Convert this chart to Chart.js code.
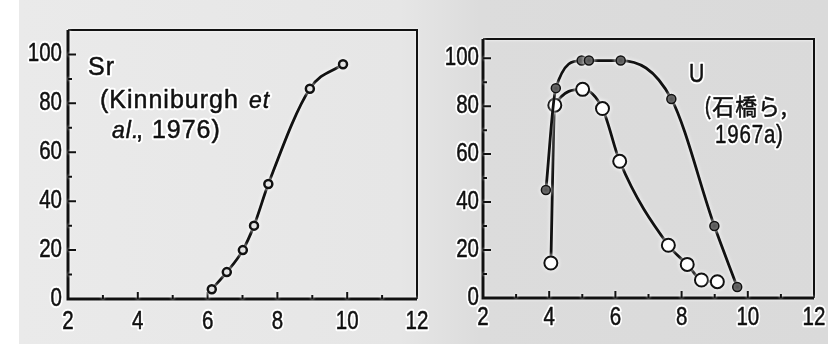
<!DOCTYPE html>
<html>
<head>
<meta charset="utf-8">
<script src="https://cdn.jsdelivr.net/npm/chart.js@4"></script>
<style>
  html, body { margin: 0; padding: 0; }
  body {
    width: 828px; height: 344px; position: relative; overflow: hidden;
    background: linear-gradient(to right, #fff 0, #fff 19px, #eaeaea 19px, #e6e6e6 400px, #dcdcdc 480px, #dadada 828px);
  }
  canvas { position: absolute; left: 0; top: 0; }
</style>
</head>
<body>
<canvas id="srChart" width="828" height="344"></canvas>
<canvas id="uChart" width="828" height="344"></canvas>
<script>
// Sr adsorption vs pH
const srX = [6.12, 6.55, 7.01, 7.33, 7.74, 8.93, 9.88];
const srY = [4, 11, 20, 30, 47, 86, 96];

// U adsorption vs pH, two series (filled / open circles)
const uFilledX = [3.90, 4.20, 4.98, 5.20, 6.16, 7.69, 8.99, 9.68];
const uFilledY = [45, 87.5, 99, 99, 99, 83, 30, 4.6];
const uOpenX = [4.05, 4.17, 5.01, 5.61, 6.13, 7.60, 8.17, 8.60, 9.08];
const uOpenY = [14.6, 80.4, 87, 79, 57, 22, 14, 7.5, 6.8];

const xTicks = [2, 4, 6, 8, 10, 12];
const yTicks = [0, 20, 40, 60, 80, 100];

const sans = '"Liberation Sans", Arial, sans-serif';
const ink = '#111';

function toPoints(xs, ys) {
  return xs.map((x, i) => ({x: x, y: ys[i]}));
}

// text with a white halo, squeezed horizontally by sx and thickened a little
function haloText(ctx, text, x, y, font, sx, align) {
  ctx.save();
  ctx.font = font;
  ctx.textAlign = align || 'left';
  ctx.translate(x, y);
  ctx.scale(sx, 1);
  ctx.lineJoin = 'round';
  ctx.strokeStyle = '#fff';
  ctx.lineWidth = 4.5;
  ctx.strokeText(text, 0, 0);
  ctx.fillStyle = ink;
  ctx.fillText(text, 0, 0);
  ctx.strokeStyle = ink;
  ctx.lineWidth = 0.5;
  ctx.strokeText(text, 0, 0);
  ctx.restore();
}

// tick numbers, box around the plot and short inward tick marks
const framePlugin = {
  id: 'frame',
  beforeDatasetsDraw(chart, args, opts) {
    const {ctx, chartArea: a, scales: {x, y}} = chart;

    ctx.save();
    ctx.textBaseline = 'middle';
    const font = '25px ' + sans;
    for (const v of xTicks) {
      haloText(ctx, String(v), x.getPixelForValue(v), a.bottom + opts.xGap, font, 0.82, 'center');
    }
    for (const v of yTicks) {
      haloText(ctx, String(v), a.left - opts.yGap, y.getPixelForValue(v), font, 0.82, 'right');
    }
    ctx.restore();

    ctx.save();
    ctx.strokeStyle = ink;
    ctx.shadowColor = '#fff';
    ctx.shadowBlur = 3;
    ctx.lineWidth = 2;
    ctx.beginPath();
    ctx.moveTo(a.left, a.top);
    ctx.lineTo(a.right, a.top);
    ctx.lineTo(a.right, a.bottom);
    ctx.stroke();
    ctx.lineWidth = 3;
    ctx.beginPath();
    ctx.moveTo(a.left, a.top);
    ctx.lineTo(a.left, a.bottom);
    ctx.lineTo(a.right, a.bottom);
    ctx.stroke();
    ctx.lineWidth = 2;
    ctx.beginPath();
    for (let v = 3; v < 12; v++) {
      const px = x.getPixelForValue(v);
      const len = v % 2 === 0 ? 7 : 4;
      ctx.moveTo(px, a.bottom);
      ctx.lineTo(px, a.bottom - len);
    }
    for (let v = 10; v <= 100; v += 10) {
      const py = y.getPixelForValue(v);
      const len = v % 20 === 0 ? 8 : 4;
      ctx.moveTo(a.left, py);
      ctx.lineTo(a.left + len, py);
    }
    ctx.stroke();
    ctx.restore();

    // white halo under the curves
    ctx.save();
    ctx.shadowColor = '#fff';
    ctx.shadowBlur = 4;
  },
  afterDatasetsDraw(chart) {
    chart.ctx.restore();
  }
};

// in-plot labels: each entry is [text, x, y, font, squeeze]
const notePlugin = {
  id: 'notes',
  afterDraw(chart, args, opts) {
    const ctx = chart.ctx;
    ctx.save();
    ctx.textBaseline = 'alphabetic';
    ctx.letterSpacing = '1px';
    for (const [text, x, y, font, sx] of opts.items) {
      haloText(ctx, text, x, y, font, sx || 1);
    }
    ctx.restore();
  }
};

function makeOptions(cfg) {
  return {
    responsive: false,
    animation: false,
    layout: {padding: {left: 0, right: cfg.padRight, top: cfg.padTop, bottom: 0}},
    plugins: {
      legend: {display: false},
      tooltip: {enabled: false},
      frame: {xGap: cfg.xGap, yGap: cfg.yGap},
      notes: {items: cfg.notes}
    },
    elements: {
      line: {cubicInterpolationMode: 'monotone', borderWidth: 2.8, borderColor: ink}
    },
    scales: {
      x: {
        type: 'linear',
        min: 2, max: 12,
        afterFit(scale) { scale.height = cfg.xHeight; },
        grid: {display: false},
        border: {display: false},
        ticks: {display: false}
      },
      y: {
        min: 0, max: cfg.yMax,
        afterFit(scale) { scale.width = cfg.yWidth; },
        grid: {display: false},
        border: {display: false},
        ticks: {display: false}
      }
    }
  };
}

new Chart(document.getElementById('srChart'), {
  type: 'line',
  data: {
    datasets: [{
      data: toPoints(srX, srY),
      pointRadius: 4,
      pointBorderWidth: 2.5,
      pointBorderColor: ink,
      pointBackgroundColor: '#cfcfcf'
    }]
  },
  options: makeOptions({
    padRight: 411, padTop: 30, xHeight: 45, yWidth: 68, yMax: 110, xGap: 23, yGap: 6,
    notes: [
      ['Sr', 88, 75, '25px ' + sans],
      ['(Kinniburgh', 100, 108, '25px ' + sans],
      ['et', 249, 108, 'italic 23px ' + sans],
      ['al.', 112, 138, 'italic 23px ' + sans],
      [', 1976)', 136, 138, '25px ' + sans]
    ]
  }),
  plugins: [framePlugin, notePlugin]
});

new Chart(document.getElementById('uChart'), {
  type: 'line',
  data: {
    datasets: [{
      data: toPoints(uFilledX, uFilledY),
      pointRadius: 4.5,
      pointBorderWidth: 1.5,
      pointBorderColor: ink,
      pointBackgroundColor: '#333'
    }, {
      data: toPoints(uOpenX, uOpenY),
      pointRadius: 6.5,
      pointBorderWidth: 2,
      pointBorderColor: ink,
      pointBackgroundColor: '#fff'
    }]
  },
  options: makeOptions({
    padRight: 14, padTop: 39, xHeight: 46, yWidth: 483, yMax: 108, xGap: 20, yGap: 4,
    notes: [
      ['U', 689, 82, '25px ' + sans, 0.85],
      ['(石橋ら,', 704, 115, '23px "Noto Sans CJK JP", sans-serif', 0.95],
      ['1967a)', 715, 143, '25px ' + sans, 0.82]
    ]
  }),
  plugins: [framePlugin, notePlugin]
});
</script>
</body>
</html>
